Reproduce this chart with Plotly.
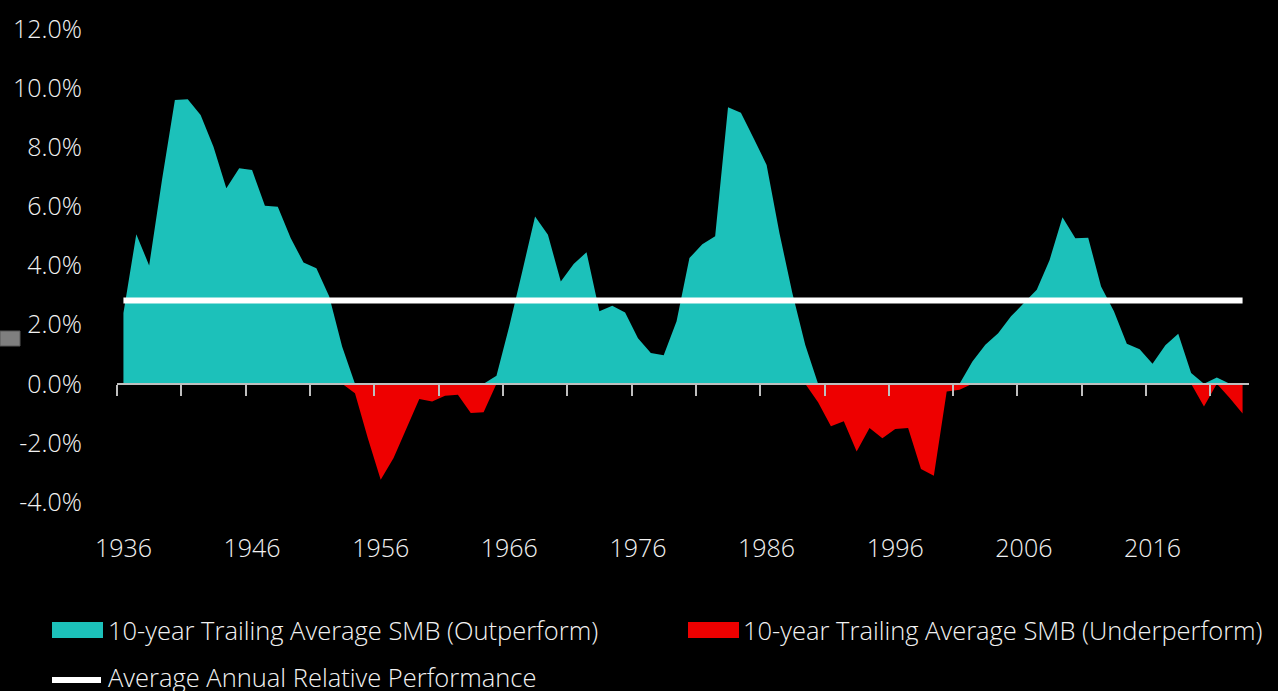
import plotly.graph_objects as go

# ---- data ----
years = list(range(1936, 2024))
smb_10yr_pct = [
    2.39, 5.06, 4.00, 6.90, 9.60, 9.62, 9.09, 8.02, 6.61, 7.29,
    7.23, 6.02, 5.99, 4.93, 4.10, 3.91, 2.95, 1.26, -0.32, -1.84,
    -3.25, -2.51, -1.51, -0.52, -0.60, -0.41, -0.37, -0.99, -0.96, 0.27,
    1.95, 3.79, 5.66, 5.04, 3.46, 4.05, 4.45, 2.45, 2.64, 2.41,
    1.54, 1.04, 0.96, 2.11, 4.25, 4.72, 4.99, 9.35, 9.17, 8.30,
    7.40, 5.09, 3.07, 1.32, -0.63, -1.44, -1.27, -2.29, -1.50, -1.84,
    -1.53, -1.50, -2.88, -3.11, -0.26, -0.20, 0.75, 1.32, 1.71, 2.28,
    2.73, 3.18, 4.19, 5.63, 4.92, 4.94, 3.29, 2.45, 1.35, 1.17,
    0.68, 1.30, 1.69, 0.36, -0.77, 0.21, -0.48, -1.01,
]
avg_annual_relative_pct = 2.82
x_tick_years = [1936, 1946, 1956, 1966, 1976, 1986, 1996, 2006, 2016]
y_tick_vals = [-4, -2, 0, 2, 4, 6, 8, 10, 12]

outperform = [max(v, 0.0) for v in smb_10yr_pct]
underperform = [min(v, 0.0) for v in smb_10yr_pct]

TEAL = "#1CC1BA"
RED = "#EE0000"
TXT = "#F2F2F2"
FONT = "Open Sans"
AX_FS = 25
LEG_FS = 25.5

W, H = 1278, 691
ML, MR, MT, MB = 117, 29, 29, 189
PW, PH = W - ML - MR, H - MT - MB


def px_x(p):
    return (p - ML) / PW


def px_y(p):
    return (H - MB - p) / PH


fig = go.Figure()
fig.add_trace(go.Scatter(
    x=years, y=outperform, mode="lines", fill="tozeroy",
    fillcolor=TEAL, line=dict(width=0, color=TEAL),
    name="10-year Trailing Average SMB (Outperform)", showlegend=False,
))
fig.add_trace(go.Scatter(
    x=years, y=underperform, mode="lines", fill="tozeroy",
    fillcolor=RED, line=dict(width=0, color=RED),
    name="10-year Trailing Average SMB (Underperform)", showlegend=False,
))
fig.add_trace(go.Scatter(
    x=[years[0], years[-1]], y=[avg_annual_relative_pct] * 2, mode="lines",
    line=dict(width=6, color="white"),
    name="Average Annual Relative Performance", showlegend=False,
))
# invisible trace on overlay axis so xaxis2 is drawn
fig.add_trace(go.Scatter(
    x=[years[0]], y=[0], xaxis="x2", mode="markers",
    marker=dict(opacity=0), showlegend=False, hoverinfo="skip",
))

xr = [years[0] - 0.5, years[-1] + 0.5]
fig.update_layout(
    width=W, height=H,
    margin=dict(l=ML, r=MR, t=MT, b=MB),
    paper_bgcolor="black", plot_bgcolor="black",
    font=dict(family=FONT, color=TXT, size=AX_FS, weight=300),
    showlegend=False,
    xaxis=dict(
        range=xr, showgrid=False, zeroline=False, showline=False,
        tickmode="array", tickvals=x_tick_years,
        ticktext=[str(y) for y in x_tick_years],
        ticks="", ticklabelstandoff=29,
        tickfont=dict(family=FONT, size=AX_FS, color=TXT, weight=300),
    ),
    xaxis2=dict(
        range=xr, overlaying="x", anchor="free", position=0.25, side="bottom",
        showgrid=False, zeroline=False, showline=True,
        linecolor="#BFBFBF", linewidth=2,
        tickmode="array", tickvals=[years[0] - 0.5 + 5 * k for k in range(18)],
        ticks="outside", ticklen=11, tickwidth=2, tickcolor="#BFBFBF",
        showticklabels=False,
    ),
    yaxis=dict(
        range=[-4, 12], showgrid=False, zeroline=False, showline=False,
        tickmode="array", tickvals=y_tick_vals,
        ticktext=[f"{v:.1f}%" for v in y_tick_vals],
        ticks="", ticklabelstandoff=34,
        tickfont=dict(family=FONT, size=AX_FS, color=TXT, weight=300),
    ),
)

# gray marker at left edge
fig.add_shape(type="rect", xref="paper", yref="paper",
              x0=px_x(0), x1=px_x(20), y0=px_y(346), y1=px_y(331),
              fillcolor="#7F7F7F", line=dict(color="#595959", width=1))

# manual legend
fig.add_shape(type="rect", xref="paper", yref="paper",
              x0=px_x(52), x1=px_x(103), y0=px_y(638), y1=px_y(622),
              fillcolor=TEAL, line=dict(width=0))
fig.add_annotation(xref="paper", yref="paper", x=px_x(106), y=px_y(630),
                   xanchor="left", yanchor="middle", showarrow=False,
                   text="10-year Trailing Average SMB (Outperform)",
                   font=dict(family=FONT, size=LEG_FS, color=TXT, weight=300))
fig.add_shape(type="rect", xref="paper", yref="paper",
              x0=px_x(688), x1=px_x(739), y0=px_y(638), y1=px_y(622),
              fillcolor=RED, line=dict(width=0))
fig.add_annotation(xref="paper", yref="paper", x=px_x(741), y=px_y(630),
                   xanchor="left", yanchor="middle", showarrow=False,
                   text="10-year Trailing Average SMB (Underperform)",
                   font=dict(family=FONT, size=LEG_FS, color=TXT, weight=300))
fig.add_shape(type="line", xref="paper", yref="paper",
              x0=px_x(52), x1=px_x(101), y0=px_y(680), y1=px_y(680),
              line=dict(color="white", width=6))
fig.add_annotation(xref="paper", yref="paper", x=px_x(106), y=px_y(677),
                   xanchor="left", yanchor="middle", showarrow=False,
                   text="Average Annual Relative Performance",
                   font=dict(family=FONT, size=LEG_FS, color=TXT, weight=300))

fig.write_html(
    "out.html",
    config={"displayModeBar": False},
    post_script="document.body.style.margin='0';document.body.style.overflow='hidden';",
)
